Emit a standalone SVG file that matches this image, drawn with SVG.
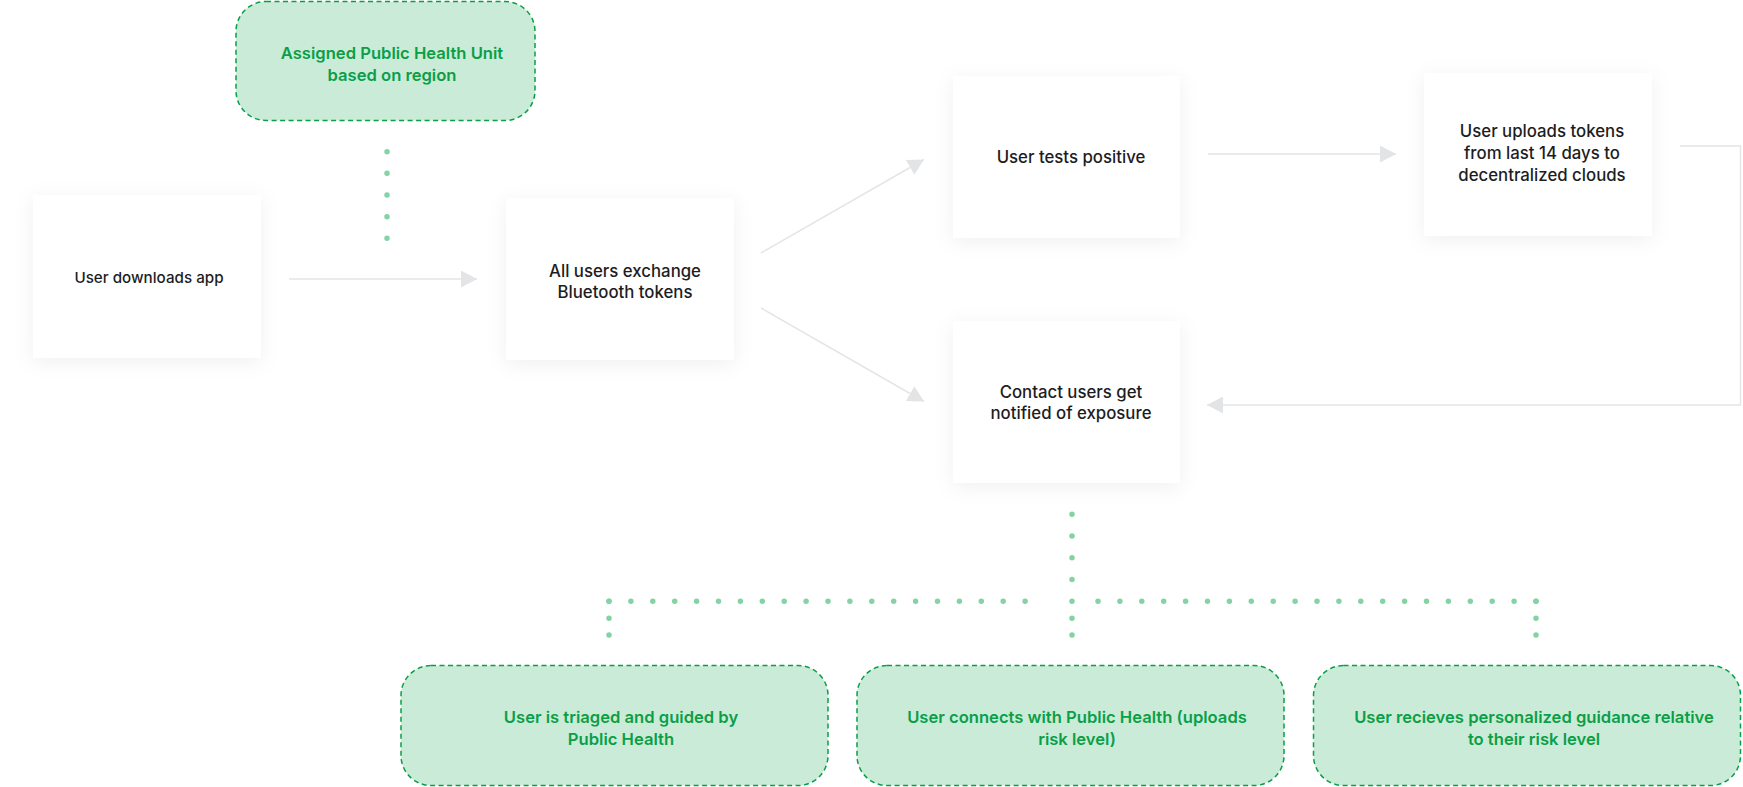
<svg xmlns="http://www.w3.org/2000/svg" width="1743" height="787" viewBox="0 0 1743 787">
  <defs>
    <filter id="sh" x="-25%" y="-25%" width="150%" height="150%">
      <feDropShadow dx="0" dy="4" stdDeviation="10" flood-color="#000" flood-opacity="0.06"/>
    </filter>
    <marker id="ah" markerUnits="userSpaceOnUse" markerWidth="17" markerHeight="17" refX="16" refY="8.5" orient="auto">
      <path d="M0,0 L16,8.5 L0,17 z" fill="#e3e4e6"/>
    </marker>
  </defs>
  <style>
    .box { fill: #ffffff; filter: url(#sh); }
    .gbox { fill: #cbebd9; stroke: #0a9f47; stroke-width: 1.5; stroke-dasharray: 5 3.5; }
    .t { font-family: Inter, "Liberation Sans", sans-serif; font-size: 16.8px; font-weight: 500; fill: #1d1d1f; text-anchor: middle; }
    .t.small { font-size: 15.2px; }
    .gt { font-family: Inter, "Liberation Sans", sans-serif; font-size: 16.6px; font-weight: 600; fill: #0a9f47; text-anchor: middle; }
    .conn { fill: none; stroke: #e5e5e7; stroke-width: 1.5; }
    .dots { fill: none; stroke: #84d3a3; stroke-width: 5.5; stroke-linecap: round; }
  </style>
  <rect width="1743" height="787" fill="#ffffff"/>

  <g id="connectors">
    <path class="conn" d="M289,279 L477,279" marker-end="url(#ah)"/>
    <path class="conn" d="M761,253 L924,159.5" marker-end="url(#ah)"/>
    <path class="conn" d="M761,308 L924,401.5" marker-end="url(#ah)"/>
    <path class="conn" d="M1208,154 L1396,154" marker-end="url(#ah)"/>
    <path class="conn" d="M1680,146 H1740.5 V405 H1207" marker-end="url(#ah)"/>
    <path class="dots" d="M387,151.7 V238.3" stroke-dasharray="0 21.65"/>
    <path class="dots" d="M1072,514.3 V601.3" stroke-dasharray="0 21.75"/>
    <path class="dots" d="M609,601.3 H1047" stroke-dasharray="0 21.9"/>
    <path class="dots" d="M1098,601.3 H1536" stroke-dasharray="0 21.9"/>
    <path class="dots" d="M609,601.3 V635" stroke-dasharray="0 16.85"/>
    <path class="dots" d="M1072,601.3 V635" stroke-dasharray="0 16.85"/>
    <path class="dots" d="M1536,601.3 V635" stroke-dasharray="0 16.85"/>
  </g>

  <g id="node-phu">
    <rect class="gbox" x="236" y="1.5" width="299" height="119" rx="30"/>
    <text class="gt" x="392" y="59">Assigned Public Health Unit</text>
    <text class="gt" x="392" y="81">based on region</text>
  </g>

  <g id="node-download">
    <rect class="box" x="33" y="195" width="228" height="163"/>
    <text class="t small" x="149" y="282.5">User downloads app</text>
  </g>

  <g id="node-exchange">
    <rect class="box" x="506" y="198" width="228" height="162"/>
    <text class="t" x="625" y="276.5">All users exchange</text>
    <text class="t" x="625" y="297.5">Bluetooth tokens</text>
  </g>

  <g id="node-positive">
    <rect class="box" x="953" y="76" width="227" height="162"/>
    <text class="t" x="1071" y="162.5">User tests positive</text>
  </g>

  <g id="node-upload">
    <rect class="box" x="1424" y="73" width="228" height="163"/>
    <text class="t" x="1542" y="137">User uploads tokens</text>
    <text class="t" x="1542" y="159">from last 14 days to</text>
    <text class="t" x="1542" y="181">decentralized clouds</text>
  </g>

  <g id="node-notified">
    <rect class="box" x="953" y="321" width="227" height="162"/>
    <text class="t" x="1071" y="397.5">Contact users get</text>
    <text class="t" x="1071" y="418.5">notified of exposure</text>
  </g>

  <g id="node-triaged">
    <rect class="gbox" x="401" y="665.5" width="427" height="120" rx="30"/>
    <text class="gt" x="621" y="722.5">User is triaged and guided by</text>
    <text class="gt" x="621" y="744.5">Public Health</text>
  </g>

  <g id="node-connects">
    <rect class="gbox" x="857" y="665.5" width="427" height="120" rx="30"/>
    <text class="gt" x="1077" y="722.5">User connects with Public Health (uploads</text>
    <text class="gt" x="1077" y="744.5">risk level)</text>
  </g>

  <g id="node-guidance">
    <rect class="gbox" x="1313.5" y="665.5" width="427" height="120" rx="30"/>
    <text class="gt" x="1534" y="722.5">User recieves personalized guidance relative</text>
    <text class="gt" x="1534" y="744.5">to their risk level</text>
  </g>
</svg>
